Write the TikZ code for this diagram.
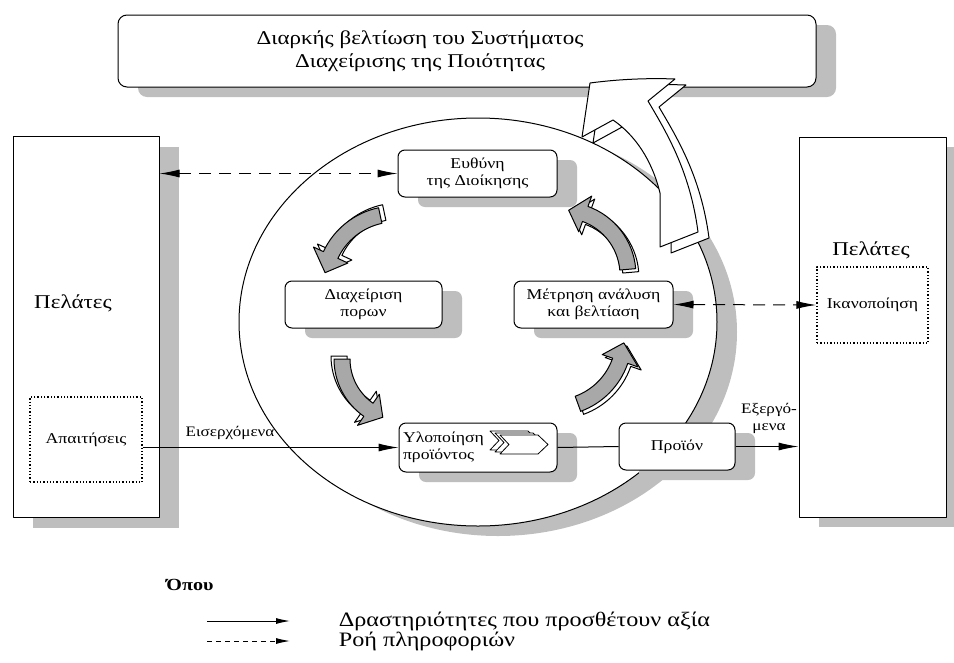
\documentclass[tikz,border=0pt]{standalone}
\usepackage{fontspec}
\setmainfont{Liberation Serif}[FakeStretch=1.18]
\usetikzlibrary{calc,shadows,arrows.meta}

\definecolor{shadowgray}{RGB}{190,190,190}
\definecolor{arrowgray}{RGB}{168,168,168}

\newcommand{\fTitle}{\fontsize{19.5}{23}\selectfont}
\newcommand{\fCust}{\fontsize{19.5}{22}\selectfont}
\newcommand{\fDot}{\fontsize{15}{18}\selectfont}
\newcommand{\fBox}{\fontsize{15}{17}\selectfont}
\newcommand{\fLabel}{\fontsize{14.5}{17}\selectfont}
\newcommand{\fKey}{\fontsize{20.5}{22}\selectfont}

% curved block arrow: centre, radius, start angle, tip angle
\newcommand{\arcarrowpath}[4]{%
  ($(#1)+(#3:#2+8)$) arc[start angle=#3, end angle=\headang, radius=#2+8]
  -- ($(#1)+(\headang:#2+19)$) -- ($(#1)+(#4:#2)$) -- ($(#1)+(\headang:#2-19)$)
  -- ($(#1)+(\headang:#2-8)$) arc[start angle=\headang, end angle=#3, radius=#2-8] -- cycle}
\newcommand{\bentarrow}[6]{%
  \pgfmathsetmacro{\headang}{#4>#3 ? #4-15 : #4+15}
  \draw[fill=white, shift={(#5,#6)}] \arcarrowpath{#1}{#2}{#3}{#4};
  \draw[fill=arrowgray] \arcarrowpath{#1}{#2}{#3}{#4};}

\tikzset{
  boxshade/.style={drop shadow={opacity=1, fill=shadowgray, shadow xshift=20pt, shadow yshift=-10pt}},
}

\begin{document}
\begin{tikzpicture}[x=1pt, y=-1pt, line width=1pt, line join=round,
  procbox/.style={draw, fill=white, rounded corners=7pt, minimum width=158pt,
    minimum height=47pt, align=center, font=\fBox, inner sep=2pt, boxshade},
  custbox/.style={draw, fill=white, minimum width=146pt, minimum height=381pt, boxshade},
  wishbox/.style={draw, dotted, line width=1.3pt, font=\fDot},
  flow/.style={-{Latex[length=20pt,width=8pt]}},
  info/.style={dash pattern=on 12pt off 8pt,
    {Latex[length=20pt,width=8pt]}-{Latex[length=20pt,width=8pt]}},
  keyflow/.style={-{Latex[length=14pt,width=6pt]}}]

\useasboundingbox (0,0) rectangle (954,662);

% top box
\node[draw, fill=white, rounded corners=9pt, minimum width=698pt, minimum height=72pt, boxshade]
  (title) at (467,51) {};
\node[font=\fTitle, align=center] (titletext) at (420,51)
  {Διαρκής βελτίωση του Συστήματος\\Διαχείρισης της Ποιότητας};

% customers
\node[custbox] (custL) at (86,327) {};
\node[font=\fCust] (custLtext) at (73,303) {Πελάτες};
\node[wishbox, minimum width=112pt, minimum height=85pt] (req) at (86,439.5) {Απαιτήσεις};

\node[custbox, minimum width=147pt, minimum height=380pt] (custR) at (872.5,327) {};
\node[font=\fCust] (custRtext) at (871,250) {Πελάτες};
\node[wishbox, minimum width=111pt, minimum height=76pt] (sat) at (872.5,305) {Ικανοποίηση};

% the loop
\fill[shadowgray] (498,332) ellipse[x radius=239, y radius=204];
\draw[fill=white] (478,322) ellipse[x radius=239, y radius=204];

\node[procbox, minimum width=159pt] (mgmt) at (477.5,173.5) {Ευθύνη\\της Διοίκησης};
\node[procbox, minimum width=157pt] (res) at (363.5,304.5) {Διαχείριση\\πορων};
\node[procbox, minimum width=159pt] (meas) at (593.5,304.5) {Μέτρηση ανάλυση\\και βελτίαση};
\node[procbox, minimum height=49pt, align=left, text width=150pt] (real) at (478,447.5)
  {Υλοποίηση\\προϊόντος};
\node[procbox, minimum width=116pt] (prod) at (677,446.5) {Προϊόν};

% chevrons in the product box
\foreach \s in {10,5,0}
  \draw[fill=white, line width=0.8pt, shift={(-\s,-0.4*\s)}]
    (500,435) -- (538,435) -- (548,444.5) -- (538,454) -- (500,454) -- (509,444.5) -- cycle;

% cycle arrows
\bentarrow{395,285}{71}{258}{190}{4}{-3}
\bentarrow{404,359}{62}{180}{110}{-3}{-3}
\bentarrow{554,338}{70}{70}{4}{3}{3}
\bentarrow{563,275}{65}{355}{275}{3}{3}

% improvement arrow
\foreach \dx/\dy in {11/6, 0/0}
  \draw[fill=white, line width=1pt, shift={(\dx,\dy)}] (660,247) -- (660,193)
    .. controls (652,160) and (635,135) .. (613,120) -- (582,137) -- (590,83)
    .. controls (620,79) and (650,78) .. (675,79) -- (648,101)
    .. controls (665,130) and (690,170) .. (698,232) -- cycle;

% connectors
\draw[info] (custL.east |- mgmt.west) -- (mgmt.west);
\draw[info] (meas.east) -- (sat.west);
\draw[flow] (req.east |- real.west) -- (real.west);
\draw (real.east) -- (prod.west);
\draw[flow] (prod.east) -- (prod.east -| custR.west);

\node[font=\fLabel] (inlabel) at (230,433) {Εισερχόμενα};
\node[font=\fLabel, align=center] (outlabel) at (769,418) {Εξεργό-\\μενα};

% legend
\node[font=\bfseries\fontsize{17}{19}\selectfont] (key) at (190,585) {Όπου};
\coordinate (flowA) at (207,621);
\coordinate (flowB) at (290,621);
\coordinate (infoA) at (207,641);
\coordinate (infoB) at (290,641);
\draw[keyflow] (flowA) -- (flowB);
\draw[keyflow, dash pattern=on 5pt off 4pt] (infoA) -- (infoB);
\node[font=\fKey, anchor=west] (flowtext) at (335,621) {Δραστηριότητες που προσθέτουν αξία};
\node[font=\fKey, anchor=west] (infotext) at (335,641) {Ροή πληροφοριών};

\end{tikzpicture}
\end{document}
